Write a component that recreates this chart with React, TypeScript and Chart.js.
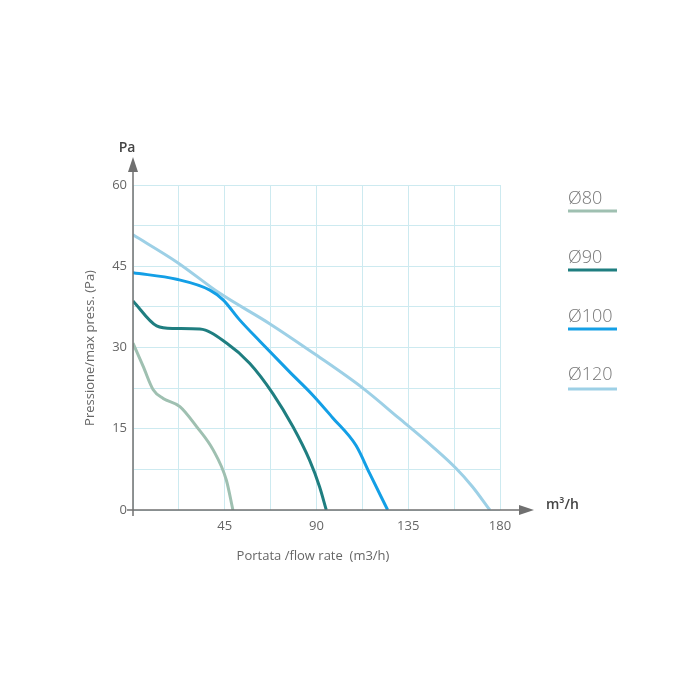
import React, { useEffect, useRef } from "react";
import { Chart, registerables } from "chart.js";

Chart.register(...registerables);

const xTickLabels = [45, 90, 135, 180];
const yTickLabels = [0, 15, 30, 45, 60];

const seriesNames = ["Ø80", "Ø90", "Ø100", "Ø120"];
const seriesColors = ["#9fc0b1", "#1f7e80", "#139fe6", "#9dd0e6"];

const d80x = [0, 5, 9.9, 14.8, 23, 31.2, 39.3, 45.8, 49];
const d80y = [30.8, 26.5, 22.2, 20.6, 19.1, 15.4, 11.1, 5.5, 0];

const d90x = [0, 11.6, 19.7, 32.8, 46, 57.2, 68.6, 78.4, 86.6, 91.5, 94.8];
const d90y = [38.6, 34, 33.5, 33.4, 30.8, 27.1, 21.5, 15.4, 9.2, 4.3, 0];

const d100x = [0, 21.4, 37.7, 44.2, 52.3, 62.1, 76.8, 88.2, 98, 109.4, 116, 124.9];
const d100y = [43.8, 42.6, 40.6, 38.8, 35.1, 31.2, 25.5, 21.2, 17.0, 11.9, 6.8, 0];

const d120x = [0, 21.4, 42.6, 67, 89.9, 112.7, 130.6, 146.9, 158.4, 166.5, 175];
const d120y = [50.8, 45.8, 40, 34.4, 28.6, 22.5, 16.9, 11.7, 7.7, 4.3, 0];

const seriesX = [d80x, d90x, d100x, d120x];
const seriesY = [d80y, d90y, d100y, d120y];

const FONT = "'Open Sans', 'DejaVu Sans', sans-serif";

const decorPlugin = {
  id: "decor",
  afterDraw(chart: any) {
    const { ctx, chartArea } = chart;
    const left = chartArea.left;
    const bottom = chartArea.bottom;
    ctx.save();
    ctx.strokeStyle = "#707070";
    ctx.fillStyle = "#707070";
    ctx.lineWidth = 1.5;
    // y axis
    ctx.beginPath();
    ctx.moveTo(left, bottom + 6);
    ctx.lineTo(left, 168);
    ctx.stroke();
    ctx.beginPath();
    ctx.moveTo(left, 157);
    ctx.lineTo(left - 5, 172);
    ctx.lineTo(left + 5, 172);
    ctx.closePath();
    ctx.fill();
    // x axis
    ctx.beginPath();
    ctx.moveTo(left - 6, bottom);
    ctx.lineTo(522, bottom);
    ctx.stroke();
    ctx.beginPath();
    ctx.moveTo(534, bottom);
    ctx.lineTo(519, bottom - 5);
    ctx.lineTo(519, bottom + 5);
    ctx.closePath();
    ctx.fill();

    // axis unit labels
    ctx.fillStyle = "#444";
    ctx.font = `600 14px ${FONT}`;
    ctx.textAlign = "center";
    ctx.textBaseline = "middle";
    ctx.fillText("Pa", 127, 148);
    ctx.textAlign = "left";
    ctx.fillText("m³/h", 546, 505);

    // axis titles
    ctx.fillStyle = "#666";
    ctx.font = `13px ${FONT}`;
    ctx.textAlign = "center";
    ctx.fillText("Portata /flow rate  (m3/h)", 313, 556);
    ctx.save();
    ctx.translate(90, 348);
    ctx.rotate(-Math.PI / 2);
    ctx.fillText("Pressione/max press. (Pa)", 0, 0);
    ctx.restore();

    // legend
    const legendY = [199, 258, 317, 375];
    const lineY = [211, 270, 329, 389];
    ctx.font = `300 18px ${FONT}`;
    ctx.textAlign = "left";
    ctx.textBaseline = "middle";
    seriesNames.forEach((n, i) => {
      ctx.fillStyle = "#777";
      ctx.fillText(n, 568, legendY[i]);
      ctx.strokeStyle = seriesColors[i];
      ctx.lineWidth = 3;
      ctx.beginPath();
      ctx.moveTo(568, lineY[i]);
      ctx.lineTo(617, lineY[i]);
      ctx.stroke();
    });
    ctx.restore();
  },
};

export default function App() {
  const ref = useRef<HTMLCanvasElement>(null);
  useEffect(() => {
    if (!ref.current) return;
    const datasets = seriesNames.map((name, i) => ({
      label: name,
      data: seriesX[i].map((x, j) => ({ x, y: seriesY[i][j] })),
      borderColor: seriesColors[i],
      borderWidth: 3,
      pointRadius: 0,
      fill: false,
      cubicInterpolationMode: "monotone" as const,
    }));
    const chart = new Chart(ref.current, {
      type: "line",
      data: { datasets },
      options: {
        responsive: false,
        animation: false,
        layout: { padding: { left: 0, top: 185, right: 200, bottom: 150 } },
        plugins: { legend: { display: false }, tooltip: { enabled: false } },
        scales: {
          x: {
            type: "linear",
            min: 0,
            max: 180,
            afterFit: (s: any) => {
              s.height = 40;
            },
            afterBuildTicks: (s: any) => {
              s.ticks = [];
              for (let v = 0; v <= 180; v += 22.5) s.ticks.push({ value: v });
            },
            grid: { color: "#cdeaf0", lineWidth: 1, drawTicks: false },
            border: { display: false },
            ticks: {
              padding: 8,
              color: "#666",
              font: { family: FONT, size: 13 },
              maxRotation: 0,
              autoSkip: false,
              callback: (v: any) => (xTickLabels.includes(Number(v)) ? String(v) : ""),
            },
          },
          y: {
            type: "linear",
            min: 0,
            max: 60,
            afterFit: (s: any) => {
              s.width = 133;
            },
            afterBuildTicks: (s: any) => {
              s.ticks = [];
              for (let v = 0; v <= 60; v += 7.5) s.ticks.push({ value: v });
            },
            grid: { color: "#cdeaf0", lineWidth: 1, drawTicks: false },
            border: { display: false },
            ticks: {
              padding: 6,
              color: "#666",
              font: { family: FONT, size: 13 },
              autoSkip: false,
              callback: (v: any) => (yTickLabels.includes(Number(v)) ? String(v) : ""),
            },
          },
        },
      },
      plugins: [decorPlugin],
    });
    return () => chart.destroy();
  }, []);
  return (
    <div style={{ position: "absolute", left: 0, top: 0, width: 700, height: 700, background: "#fff" }}>
      <canvas ref={ref} width={700} height={700} />
    </div>
  );
}
